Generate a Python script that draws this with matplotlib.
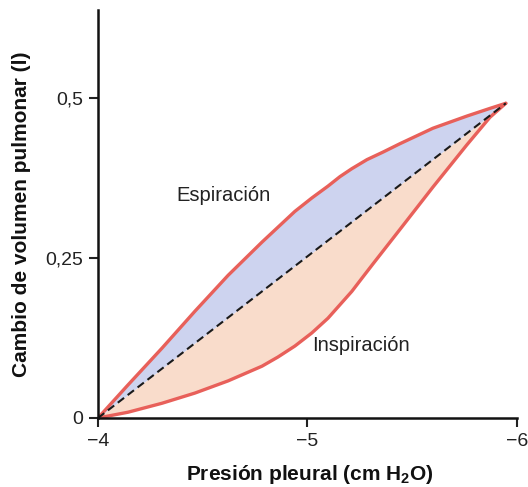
import matplotlib.pyplot as plt

plt.rcParams['font.family'] = ['Liberation Sans', 'DejaVu Sans']
plt.rcParams['mathtext.fontset'] = 'custom'
plt.rcParams['mathtext.rm'] = 'Liberation Sans'
plt.rcParams['mathtext.bf'] = 'Liberation Sans:bold'

# Presión pleural (cm H2O) y cambio de volumen (l)
presion_esp = [-4.0, -4.143, -4.305, -4.463, -4.621, -4.783, -4.940, -5.021,
               -5.098, -5.155, -5.212, -5.284, -5.360, -5.442, -5.599,
               -5.761, -5.871, -5.947]
volumen_esp = [0.0, 0.0516, 0.109, 0.167, 0.223, 0.275, 0.323, 0.344,
               0.3625, 0.3773, 0.3898, 0.4039, 0.4156, 0.4289, 0.453,
               0.472, 0.484, 0.492]

presion_insp = [-4.0, -4.143, -4.305, -4.463, -4.621, -4.783, -4.859, -4.940,
                -5.021, -5.098, -5.155, -5.212, -5.260, -5.313, -5.442,
                -5.599, -5.761, -5.871, -5.947]
volumen_insp = [0.0, 0.009, 0.023, 0.039, 0.058, 0.081, 0.0953, 0.1125,
                0.133, 0.156, 0.177, 0.198, 0.2185, 0.241, 0.295,
                0.361, 0.427, 0.470, 0.492]

xticks = [-4, -5, -6]
xtick_labels = ['\u22124', '\u22125', '\u22126']
yticks = [0, 0.25, 0.5]
ytick_labels = ['0', '0,25', '0,5']

rojo = '#e8605a'
azul = '#cdd3ef'
melocoton = '#f9dccb'

fig = plt.figure(figsize=(5.28, 4.87), dpi=100)
ax = fig.add_axes([0.1856, 0.1417, 0.7934, 0.8373])

# Recta entre los extremos del ciclo
x0, y0 = presion_esp[0], volumen_esp[0]
x1, y1 = presion_esp[-1], volumen_esp[-1]
pendiente = (y1 - y0) / (x1 - x0)
recta_esp = [y0 + (x - x0) * pendiente for x in presion_esp]
recta_insp = [y0 + (x - x0) * pendiente for x in presion_insp]

ax.fill_between(presion_esp, recta_esp, volumen_esp, color=azul, lw=0)
ax.fill_between(presion_insp, volumen_insp, recta_insp, color=melocoton, lw=0)

ax.plot(presion_esp, volumen_esp, color=rojo, lw=2.4,
        solid_capstyle='round', solid_joinstyle='round')
ax.plot(presion_insp, volumen_insp, color=rojo, lw=2.4,
        solid_capstyle='round', solid_joinstyle='round')
ax.plot([x0, x1], [y0, y1], color='#1a1a1a', lw=1.5, ls=(0, (3.8, 2.2)))

ax.text(-4.6, 0.348, 'Espiración', fontsize=14.5, ha='center', va='center', color='#222222')
ax.text(-5.255, 0.114, 'Inspiración', fontsize=14.5, ha='center', va='center', color='#222222')

ax.set_xlim(-4, -6)
ax.set_ylim(0, 0.6375)
ax.set_xticks(xticks)
ax.set_xticklabels(xtick_labels)
ax.set_yticks(yticks)
ax.set_yticklabels(ytick_labels)
ax.tick_params(direction='out', length=6.5, width=1.5, labelsize=14, colors='#222222', pad=4)

for s in ['top', 'right']:
    ax.spines[s].set_visible(False)
for s in ['left', 'bottom']:
    ax.spines[s].set_linewidth(1.8)
    ax.spines[s].set_color('#111111')

ax.set_xlabel('Presión pleural (cm H$_\\mathbf{2}$O)', fontsize=15, fontweight='bold', color='#111111')
ax.set_ylabel('Cambio de volumen pulmonar (l)', fontsize=15, fontweight='bold', color='#111111')
ax.xaxis.set_label_coords(0.506, -0.11)
ax.yaxis.set_label_coords(-0.16, 0.5)

plt.savefig('out.png', dpi=100)
